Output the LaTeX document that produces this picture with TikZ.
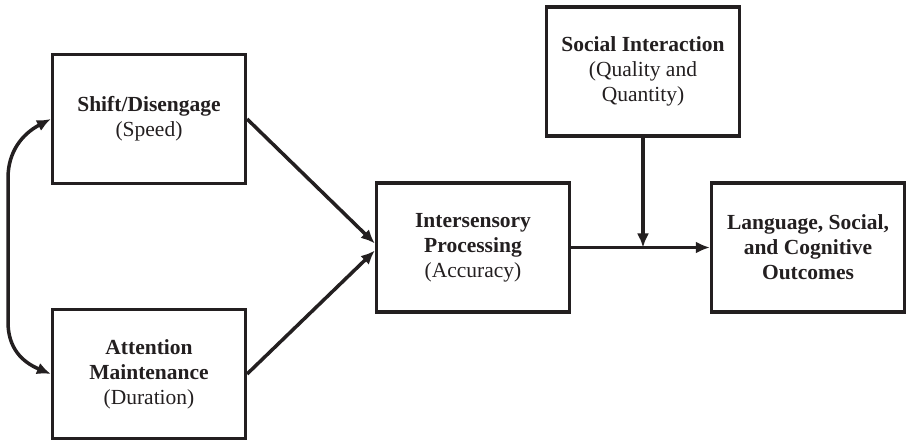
\documentclass[tikz,border=0pt]{standalone}
\usepackage{fontspec}
\setmainfont{Liberation Serif}
\usetikzlibrary{arrows.meta}
\definecolor{ink}{RGB}{35,31,32}
\begin{document}
\begin{tikzpicture}[x=1pt,y=-1pt,
  box/.style={draw=ink,line width=3.2pt,minimum width=193pt,minimum height=129pt,inner sep=0pt,
    align=center,text=ink,font=\fontsize{21.5}{25}\selectfont},
  arr/.style={draw=ink,line width=3.5pt,-{Latex[length=14pt,width=12pt]}},
  darr/.style={draw=ink,line width=3.5pt,{Latex[length=14pt,width=12pt]}-{Latex[length=14pt,width=12pt]}}]
\useasboundingbox (0,0) rectangle (906,441);
\node[box] (s) at (149,119) {\textbf{Shift/Disengage}\\(Speed)};
\node[box] (a) at (149,374) {\textbf{Attention}\\\textbf{Maintenance}\\(Duration)};
\node[box] (i) at (473,247.5) {\textbf{Intersensory}\\\textbf{Processing}\\(Accuracy)};
\node[box] (soc) at (643,71.5) {\textbf{Social Interaction}\\(Quality and\\Quantity)};
\node[box] (l) at (808,247.5) {\textbf{Language, Social,}\\\textbf{and Cognitive}\\\textbf{Outcomes}};
\coordinate (j) at (643,247.5);
\draw[arr] (s.east) -- ([yshift=4pt]i.west);
\draw[arr] (a.east) -- ([yshift=-3pt]i.west);
\draw[arr] (i.east) -- (l.west);
\draw[arr] (soc.south) -- (j);
\draw[darr] (s.west) .. controls (22,134) and (8,152) .. (8,178) -- (8,322) .. controls (8,348) and (22,362) .. (a.west);
\end{tikzpicture}
\end{document}
